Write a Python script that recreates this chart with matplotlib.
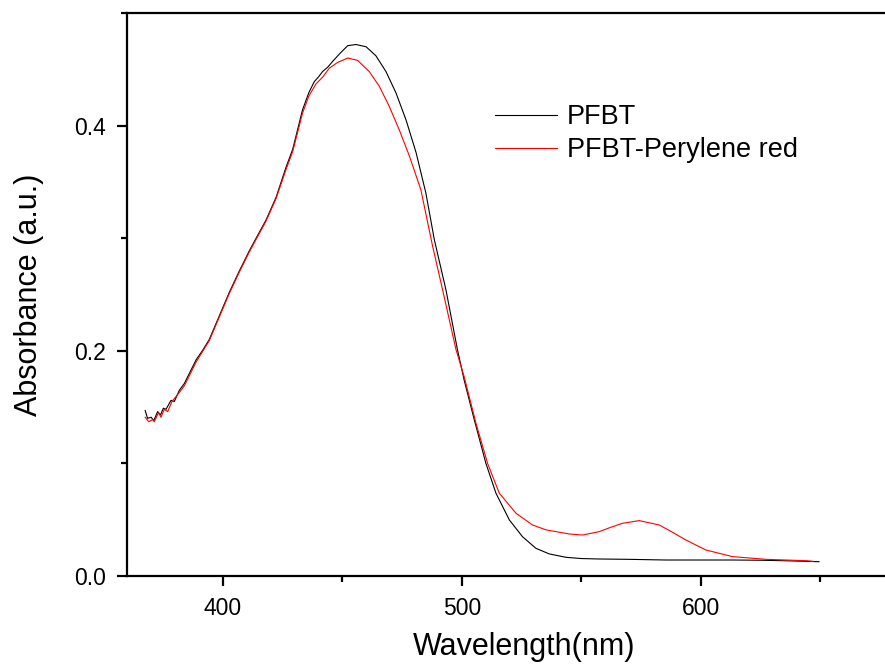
import matplotlib
matplotlib.use("Agg")
import matplotlib.pyplot as plt
from matplotlib.ticker import MultipleLocator, FormatStrFormatter

plt.rcParams['font.family'] = ['Liberation Sans', 'DejaVu Sans']

# PFBT (black)
wl_pfbt = [367.6, 368.6, 370.1, 371.2, 372.8, 374.0, 375.2, 376.3, 378.4, 379.8,
           381.9, 384.0, 386.1, 388.9, 391.5, 394.4, 398.6, 402.8, 407.0, 411.2,
           414.5, 418.1, 422.3, 426.5, 429.3, 433.4, 436.0, 438.3, 440.0, 441.8,
           444.0, 446.0, 449.0, 452.3, 455.8, 460.0, 464.1, 468.3, 472.5, 476.7,
           480.9, 485.0, 488.5, 493.4, 498.2, 501.0, 505.2, 510.1, 514.3, 519.9,
           525.4, 531.0, 536.6, 543.6, 550.0, 557.5, 570.0, 585.4, 600.0, 613.2,
           625.0, 634.1, 649.4]
abs_pfbt = [0.147, 0.140, 0.141, 0.138, 0.146, 0.143, 0.149, 0.148, 0.156, 0.155,
            0.165, 0.171, 0.180, 0.192, 0.200, 0.210, 0.231, 0.252, 0.271, 0.289,
            0.302, 0.316, 0.336, 0.363, 0.379, 0.414, 0.429, 0.439, 0.443, 0.448,
            0.452, 0.457, 0.464, 0.471, 0.472, 0.470, 0.462, 0.448, 0.429, 0.405,
            0.376, 0.340, 0.299, 0.254, 0.201, 0.174, 0.139, 0.100, 0.0735, 0.0498,
            0.0349, 0.0246, 0.0196, 0.0166, 0.0155, 0.0151, 0.0148, 0.0142, 0.0142, 0.0142,
            0.0140, 0.0136, 0.0127]

# PFBT-Perylene red (red)
wl_red = [367.6, 369.1, 370.7, 371.4, 373.2, 374.2, 375.6, 377.0, 378.8, 381.9,
          384.0, 386.1, 388.9, 391.5, 394.4, 398.6, 402.8, 407.0, 411.2, 414.5,
          418.1, 422.3, 426.5, 429.3, 433.4, 436.0, 439.0, 441.8, 444.6, 448.0,
          452.3, 456.4, 461.3, 465.5, 469.7, 473.9, 478.1, 482.9, 487.8, 492.0,
          497.6, 501.0, 505.9, 510.8, 515.7, 522.7, 529.6, 535.2, 539.4, 545.0,
          550.5, 557.5, 562.0, 567.2, 574.2, 582.6, 588.0, 593.7, 602.1, 613.2,
          627.2, 643.9, 647.0]
abs_red = [0.141, 0.137, 0.139, 0.137, 0.145, 0.141, 0.148, 0.146, 0.155, 0.163,
           0.169, 0.178, 0.190, 0.199, 0.209, 0.230, 0.251, 0.270, 0.288, 0.301,
           0.315, 0.335, 0.361, 0.377, 0.411, 0.426, 0.437, 0.443, 0.451, 0.456,
           0.460, 0.458, 0.448, 0.435, 0.417, 0.396, 0.373, 0.343, 0.293, 0.254,
           0.201, 0.177, 0.136, 0.100, 0.0735, 0.0557, 0.0453, 0.0410, 0.0394, 0.0373,
           0.0364, 0.0394, 0.0430, 0.0468, 0.0492, 0.0453, 0.0390, 0.0320, 0.0231, 0.0172,
           0.0148, 0.0136, 0.0130]

fig = plt.figure(figsize=(8.85, 6.66), dpi=100)
ax = fig.add_axes([127/885, 1 - 576/666, 1 - 127/885, (576 - 13)/666])

ax.plot(wl_pfbt, abs_pfbt, color='black', lw=0.8, label='PFBT')
ax.plot(wl_red, abs_red, color='red', lw=0.8, label='PFBT-Perylene red')

ax.set_xlim(360, 677)
ax.set_ylim(0, 0.5)

ax.xaxis.set_major_locator(MultipleLocator(100))
ax.xaxis.set_minor_locator(MultipleLocator(50))
ax.yaxis.set_major_locator(MultipleLocator(0.2))
ax.yaxis.set_minor_locator(MultipleLocator(0.1))
ax.yaxis.set_major_formatter(FormatStrFormatter('%.1f'))

ax.spines['right'].set_visible(False)
for s in ['left', 'bottom', 'top']:
    ax.spines[s].set_linewidth(1.6)
ax.xaxis.set_ticks_position('bottom')
ax.yaxis.set_ticks_position('left')
ax.tick_params(which='major', direction='out', length=7, width=1.6, labelsize=16.5, pad=8)
ax.tick_params(which='minor', direction='out', length=4, width=1.6)

ax.set_xlabel('Wavelength(nm)', fontsize=22)
ax.set_ylabel('Absorbance (a.u.)', fontsize=22)
ax.xaxis.set_label_coords(0.524, -0.1)
ax.yaxis.set_label_coords(-0.11, 0.5)

ax.legend(loc='upper left', bbox_to_anchor=(495/885, 1 - 104/666),
          bbox_transform=fig.transFigure, frameon=False, fontsize=19.5,
          handlelength=2.3, handletextpad=0.35, labelspacing=0.27,
          borderpad=0, borderaxespad=0)

fig.savefig('out.png', dpi=100)
